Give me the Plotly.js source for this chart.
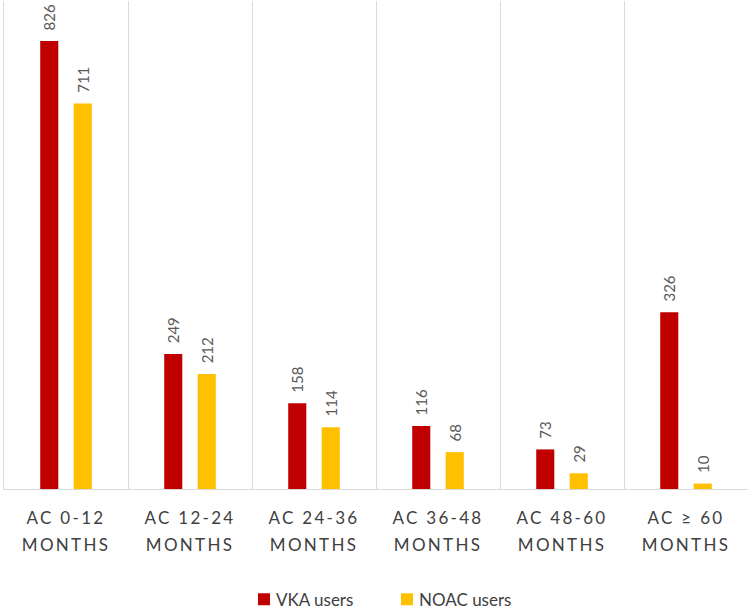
<!DOCTYPE html>
<html><head><meta charset="utf-8">
<script src="https://cdn.plot.ly/plotly-3.0.1.min.js"></script>
<style>
body{margin:0;padding:0;background:#fff}
.xtick text{letter-spacing:2.3px}
</style>
</head><body>
<div id="chart" style="width:750px;height:611px"></div>
<script>
const categories = ["AC 0-12<br>MONTHS","AC 12-24<br>MONTHS","AC 24-36<br>MONTHS","AC 36-48<br>MONTHS","AC 48-60<br>MONTHS","AC \u2265 60<br>MONTHS"];
const vkaUsers = [826, 249, 158, 116, 73, 326];
const noacUsers = [711, 212, 114, 68, 29, 10];
const seriesNames = ["VKA users", "NOAC users"];

const common = {
  type: "bar",
  x: categories,
  textposition: "outside",
  textangle: -90,
  constraintext: "none",
  cliponaxis: false,
  texttemplate: "\u00a0\u00a0%{y}",
  textfont: {family: "Lato, 'Open Sans', sans-serif", size: 15, color: "#595959"},
  hoverinfo: "none"
};
const traces = [
  Object.assign({}, common, {name: seriesNames[0], y: vkaUsers, marker: {color: "#C00000"}}),
  Object.assign({}, common, {name: seriesNames[1], y: noacUsers, marker: {color: "#FFC000"}})
];
const layout = {
  width: 750, height: 611,
  margin: {l: 4, r: 2, t: 1, b: 122, autoexpand: false},
  paper_bgcolor: "#fff", plot_bgcolor: "#fff",
  barmode: "group", bargap: 0.46, bargroupgap: 0.46,
  font: {family: "Lato, 'Open Sans', sans-serif", color: "#404040"},
  xaxis: {
    type: "category", tickson: "boundaries", showgrid: true, gridcolor: "#d9d9d9", gridwidth: 1,
    showline: true, linecolor: "#d9d9d9", linewidth: 1, mirror: false,
    ticks: "outside", ticklen: 22, tickcolor: "rgba(0,0,0,0)", ticklabelstandoff: 14,
    tickfont: {size: 17, color: "#404040"}, automargin: false
  },
  yaxis: {range: [0, 900], showticklabels: false, ticks: "", showgrid: false, zeroline: false,
    showline: true, linecolor: "#d9d9d9", linewidth: 1, automargin: false},
  showlegend: true,
  legend: {orientation: "h", x: 0.504, xanchor: "center", y: -0.19, yanchor: "top",
    font: {size: 17, color: "#404040"}, itemwidth: 30, traceorder: "normal",
    entrywidth: 98, entrywidthmode: "pixels"}
};
Plotly.newPlot("chart", traces, layout, {staticPlot: true}).then(function(gd){
  gd.querySelectorAll(".xtick text tspan.line").forEach(function(t){
    if (t.getAttribute("dy") && t.getAttribute("dy") !== "0em") t.setAttribute("dy", "1.55em");
  });
  gd.querySelectorAll(".legend .legendsymbols").forEach(function(el){
    var tr = el.getAttribute("transform") || "";
    el.setAttribute("transform", (tr + " translate(8,0)").trim());
  });
});
</script>
</body></html>
